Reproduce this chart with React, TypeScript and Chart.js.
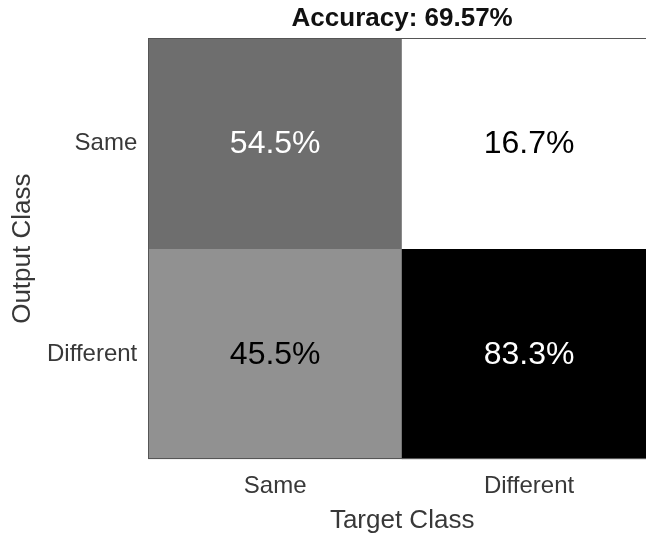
import { useEffect, useRef } from "react";
import { Chart, registerables } from "chart.js";

Chart.register(...registerables);

// Confusion matrix: columns are target classes, rows are output classes.
const targetClasses = ["Same", "Different"];
const outputClasses = ["Same", "Different"];
// Column-normalised percentages for each output row, indexed by target class.
const sameOutputPct = [54.5, 16.7];
const differentOutputPct = [45.5, 83.3];
const accuracyPct = 69.57;

const FONT = "'Liberation Sans', Arial, Helvetica, sans-serif";

const allValues = [...sameOutputPct, ...differentOutputPct];
const vMin = Math.min(...allValues);
const vMax = Math.max(...allValues);

// Gray colormap: low values white, high values black.
function shade(v: number): number {
  return (v - vMin) / (vMax - vMin);
}
function cellColor(v: number): string {
  const g = Math.round(255 * (1 - shade(v)));
  return `rgb(${g},${g},${g})`;
}
function textColor(v: number): string {
  return shade(v) > 0.5 ? "#ffffff" : "#000000";
}

const rows = [
  { label: outputClasses[0], values: sameOutputPct, span: [1, 2] },
  { label: outputClasses[1], values: differentOutputPct, span: [0, 1] },
];

const cellLabels = {
  id: "cellLabels",
  afterDatasetsDraw(chart: any) {
    const ctx = chart.ctx;
    ctx.save();
    ctx.font = `32px ${FONT}`;
    ctx.textAlign = "center";
    ctx.textBaseline = "middle";
    chart.data.datasets.forEach((ds: any, i: number) => {
      const meta = chart.getDatasetMeta(i);
      meta.data.forEach((el: any, j: number) => {
        const v = ds.pct[j];
        ctx.fillStyle = textColor(v);
        ctx.fillText(`${v.toFixed(1)}%`, el.x, (el.y + el.base) / 2 + 1);
      });
    });
    const a = chart.chartArea;
    ctx.strokeStyle = "#555555";
    ctx.lineWidth = 1;
    ctx.strokeRect(
      Math.round(a.left) + 0.5,
      Math.round(a.top) + 0.5,
      Math.round(a.right - a.left) - 1,
      Math.round(a.bottom - a.top) - 1
    );
    ctx.restore();
  },
};

export default function App() {
  const ref = useRef<HTMLCanvasElement | null>(null);

  useEffect(() => {
    if (!ref.current) return;
    const chart = new Chart(ref.current, {
      type: "bar",
      data: {
        labels: targetClasses,
        datasets: rows.map((r) => ({
          label: r.label,
          data: r.values.map(() => r.span),
          pct: r.values,
          backgroundColor: r.values.map(cellColor),
          borderWidth: 0,
          grouped: false,
          barPercentage: 1,
          categoryPercentage: 1,
        })) as any,
      },
      options: {
        responsive: false,
        animation: false,
        devicePixelRatio: 1,
        layout: { padding: 0 },
        plugins: {
          legend: { display: false },
          tooltip: { enabled: false },
          title: {
            display: true,
            text: `Accuracy: ${accuracyPct.toFixed(2)}%`,
            fullSize: false,
            color: "#111111",
            font: { family: FONT, size: 26, weight: "bold", lineHeight: 1.2 },
            padding: { top: 3, bottom: 4 },
          },
        },
        scales: {
          x: {
            type: "category",
            grid: { display: false, drawTicks: false },
            border: { display: false },
            ticks: {
              color: "#383838",
              padding: 13,
              font: { family: FONT, size: 24, lineHeight: 1.2 },
            },
            title: {
              display: true,
              text: "Target Class",
              color: "#383838",
              font: { family: FONT, size: 26, lineHeight: 1 },
              padding: { top: -6, bottom: 3 },
            },
          },
          y: {
            type: "linear",
            min: 0,
            max: 2,
            grid: { display: false, drawTicks: false },
            border: { display: false },
            afterBuildTicks(scale: any) {
              scale.ticks = outputClasses.map((_, i) => ({ value: outputClasses.length - 1 - i + 0.5 }));
            },
            ticks: {
              color: "#383838",
              padding: 11,
              font: { family: FONT, size: 24, lineHeight: 1.2 },
              callback: (value: any) =>
                outputClasses[outputClasses.length - 1 - Math.floor(Number(value))],
            },
            title: {
              display: true,
              text: "Output Class",
              color: "#383838",
              font: { family: FONT, size: 26, lineHeight: 1 },
              padding: { top: 10, bottom: 0 },
            },
          },
        },
      },
      plugins: [cellLabels],
    });
    return () => chart.destroy();
  }, []);

  return (
    <div
      style={{
        position: "fixed",
        left: 0,
        top: 0,
        width: 646,
        height: 537,
        overflow: "hidden",
        background: "#ffffff",
      }}
    >
      <canvas ref={ref} width={656} height={537} style={{ display: "block" }} />
    </div>
  );
}
